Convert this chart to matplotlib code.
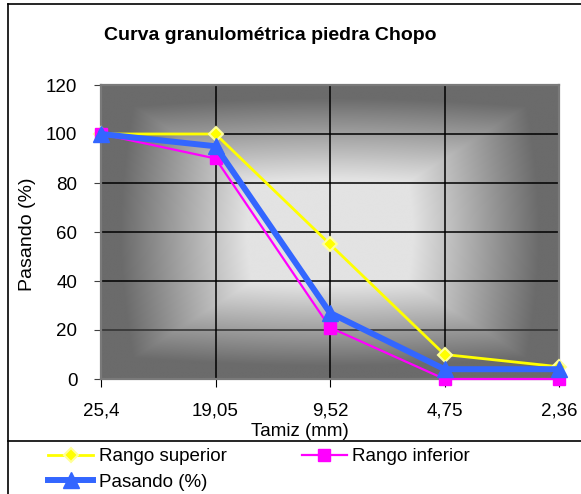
import numpy as np
import matplotlib
matplotlib.use("Agg")
import matplotlib.pyplot as plt
from matplotlib.lines import Line2D

plt.rcParams['font.family'] = ['Liberation Sans', 'DejaVu Sans']

# data
tamices = ['25,4', '19,05', '9,52', '4,75', '2,36']
rango_superior = [100, 100, 55, 10, 5]
rango_inferior = [100, 90, 21, 0, 0]
pasando = [100, 95, 27, 4, 4]
yticks = [0, 20, 40, 60, 80, 100, 120]

W, H = 581, 494
fig = plt.figure(figsize=(W / 100, H / 100), dpi=100)

# plot area in pixels: x 101..559, y 85..379
ax = fig.add_axes([101 / W, 1 - 379 / H, (559 - 101) / W, (379 - 85) / H])

x = np.arange(len(tamices))

# "from center" grey gradient like the Excel fill
gx = np.linspace(-1, 1, 460)
gy = np.linspace(-1, 1, 300)
XX, YY = np.meshgrid(gx, gy)
cheb = np.maximum(np.abs(XX), np.abs(YY))
eucl = np.sqrt(XX ** 2 + YY ** 2) / np.sqrt(2)
t = 0.8 * cheb + 0.2 * eucl
frac = np.clip((0.86 - t) / 0.52, 0, 1)
light, dark = 0.89, 0.42
shade = dark + (light - dark) * frac
ax.imshow(shade, cmap='gray', vmin=0, vmax=1, extent=[0, len(tamices) - 1, 0, 120],
          aspect='auto', origin='lower', zorder=0, interpolation='bilinear')

ax.set_xlim(0, len(tamices) - 1)
ax.set_ylim(0, 120)
ax.set_yticks(yticks)
ax.set_xticks(x)
ax.set_xticklabels(tamices, fontsize=13.5)
ax.set_yticklabels([str(v) for v in yticks], fontsize=13.5)
ax.tick_params(axis='x', length=6, pad=11, color='black')
ax.tick_params(axis='y', length=5, pad=12, color='#404040')

for v in yticks[1:-1]:
    ax.axhline(v, color='black' if v > 20 else '#303030', lw=1.1, zorder=1)
for xi in x[1:-1]:
    ax.axvline(xi, color='black', lw=1.1, zorder=1)

for s in ax.spines.values():
    s.set_color('#7a7a7a')
    s.set_linewidth(1.6)

ax.plot(x, rango_superior, color='#ffff00', lw=2, marker='D', ms=7.5,
        mfc='#ffff00', mec='#ffff99', mew=1.5, zorder=3, clip_on=False,
        label='Rango superior')
ax.plot(x, rango_inferior, color='#ff00ff', lw=1.6, marker='s', ms=8.5,
        mfc='#ff00ff', mec='#ff00ff', zorder=4, clip_on=False,
        label='Rango inferior')
ax.plot(x, pasando, color='#3366ff', lw=4.3, marker='^', ms=11,
        mfc='#3366ff', mec='#3366ff', zorder=5, clip_on=False,
        label='Pasando (%)')

fig.text(270 / W, 1 - 36 / H, 'Curva granulométrica piedra Chopo',
         fontsize=14, fontweight='bold', ha='center', va='center')
fig.text(300 / W, 1 - 431 / H, 'Tamiz (mm)', fontsize=13.5, ha='center', va='center')
fig.text(27 / W, 1 - 234 / H, 'Pasando (%)', fontsize=14, rotation=90,
         ha='center', va='center')

# chart border and legend separator
fig.add_artist(Line2D([8 / W, 1], [1 - 4 / H, 1 - 4 / H], transform=fig.transFigure,
                      color='black', lw=1.2))
fig.add_artist(Line2D([8 / W, 8 / W], [0, 1 - 4 / H], transform=fig.transFigure,
                      color='black', lw=1.2))
fig.add_artist(Line2D([8 / W, 1], [1 - 441 / H, 1 - 441 / H], transform=fig.transFigure,
                      color='black', lw=1.2))

h, l = ax.get_legend_handles_labels()
order = [0, 2, 1]
fig.legend([h[i] for i in order], [l[i] for i in order], ncol=2,
           loc='upper left', bbox_to_anchor=(48 / W, 1 - 448 / H),
           frameon=False, fontsize=13.5, handlelength=2.4, handletextpad=0.3,
           columnspacing=4.0, labelspacing=0.45, borderpad=0, borderaxespad=0)

fig.savefig('out.png', dpi=100)
